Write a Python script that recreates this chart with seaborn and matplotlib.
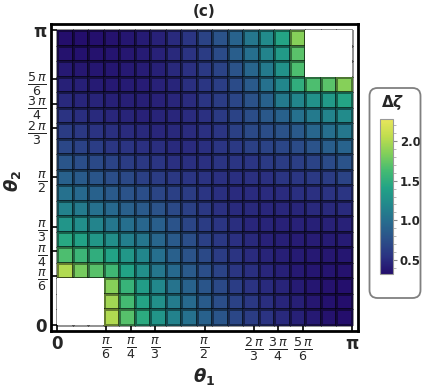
import numpy as np
import matplotlib
matplotlib.use("Agg")
import matplotlib.pyplot as plt
import seaborn as sns
from matplotlib.colors import LinearSegmentedColormap, ListedColormap
from matplotlib.patches import FancyBboxPatch
from matplotlib.transforms import IdentityTransform
from matplotlib.ticker import MultipleLocator

nan = np.nan

# delta zeta on a 19x19 mesh, rows from theta2 = pi (top) down to 0, columns theta1 = 0 .. pi
dzeta = [
    [0.33, 0.33, 0.34, 0.36, 0.38, 0.41, 0.45, 0.50, 0.57, 0.67, 0.79, 0.92, 1.07, 1.22, 1.42, 1.85, nan, nan, nan],
    [0.36, 0.35, 0.36, 0.37, 0.39, 0.41, 0.45, 0.49, 0.55, 0.62, 0.73, 0.87, 1.01, 1.17, 1.34, 1.70, nan, nan, nan],
    [0.40, 0.39, 0.38, 0.38, 0.40, 0.42, 0.44, 0.49, 0.54, 0.60, 0.67, 0.79, 0.94, 1.09, 1.27, 1.65, nan, nan, nan],
    [0.44, 0.43, 0.41, 0.40, 0.41, 0.42, 0.45, 0.47, 0.53, 0.58, 0.64, 0.73, 0.84, 1.02, 1.18, 1.50, 1.65, 1.70, 1.85],
    [0.49, 0.47, 0.46, 0.44, 0.43, 0.43, 0.45, 0.48, 0.51, 0.57, 0.62, 0.69, 0.78, 0.90, 1.09, 1.18, 1.27, 1.34, 1.42],
    [0.55, 0.52, 0.50, 0.48, 0.46, 0.45, 0.46, 0.48, 0.51, 0.54, 0.61, 0.67, 0.74, 0.83, 0.90, 1.02, 1.09, 1.17, 1.22],
    [0.62, 0.59, 0.55, 0.53, 0.51, 0.49, 0.48, 0.49, 0.51, 0.54, 0.57, 0.65, 0.71, 0.74, 0.78, 0.84, 0.94, 1.01, 1.07],
    [0.70, 0.66, 0.63, 0.58, 0.56, 0.54, 0.52, 0.50, 0.51, 0.53, 0.57, 0.60, 0.65, 0.67, 0.69, 0.73, 0.79, 0.87, 0.92],
    [0.80, 0.75, 0.71, 0.67, 0.62, 0.59, 0.57, 0.54, 0.53, 0.54, 0.56, 0.57, 0.57, 0.61, 0.62, 0.64, 0.67, 0.73, 0.79],
    [0.90, 0.85, 0.80, 0.75, 0.71, 0.65, 0.62, 0.59, 0.57, 0.55, 0.54, 0.53, 0.54, 0.54, 0.57, 0.58, 0.60, 0.62, 0.67],
    [1.02, 0.96, 0.90, 0.84, 0.79, 0.75, 0.68, 0.65, 0.62, 0.57, 0.53, 0.51, 0.51, 0.51, 0.51, 0.53, 0.54, 0.55, 0.57],
    [1.15, 1.10, 1.02, 0.96, 0.89, 0.84, 0.79, 0.71, 0.65, 0.59, 0.54, 0.50, 0.49, 0.48, 0.48, 0.47, 0.49, 0.49, 0.50],
    [1.30, 1.24, 1.17, 1.07, 1.01, 0.94, 0.88, 0.79, 0.68, 0.62, 0.57, 0.52, 0.48, 0.46, 0.45, 0.45, 0.44, 0.45, 0.45],
    [1.45, 1.40, 1.32, 1.25, 1.13, 1.06, 0.94, 0.84, 0.75, 0.65, 0.59, 0.54, 0.49, 0.45, 0.43, 0.42, 0.42, 0.41, 0.41],
    [1.65, 1.57, 1.50, 1.41, 1.32, 1.18, 1.01, 0.89, 0.79, 0.71, 0.62, 0.56, 0.51, 0.46, 0.43, 0.41, 0.40, 0.39, 0.38],
    [2.00, 1.80, 1.69, 1.60, 1.41, 1.25, 1.07, 0.96, 0.84, 0.75, 0.67, 0.58, 0.53, 0.48, 0.44, 0.40, 0.38, 0.37, 0.36],
    [nan, nan, nan, 1.85, 1.55, 1.36, 1.20, 1.04, 0.91, 0.80, 0.71, 0.63, 0.55, 0.50, 0.46, 0.41, 0.38, 0.36, 0.34],
    [nan, nan, nan, 1.95, 1.62, 1.42, 1.26, 1.11, 0.97, 0.85, 0.75, 0.66, 0.59, 0.52, 0.47, 0.43, 0.39, 0.35, 0.33],
    [nan, nan, nan, 2.00, 1.68, 1.47, 1.30, 1.15, 1.02, 0.90, 0.80, 0.70, 0.62, 0.55, 0.49, 0.44, 0.40, 0.36, 0.33],
]

# tick positions in units of pi
tick_vals = [0, 1/6, 1/4, 1/3, 1/2, 2/3, 3/4, 5/6, 1]
tick_labels = ["0", r"$\frac{\pi}{6}$", r"$\frac{\pi}{4}$", r"$\frac{\pi}{3}$", r"$\frac{\pi}{2}$",
               r"$\frac{2\,\pi}{3}$", r"$\frac{3\,\pi}{4}$", r"$\frac{5\,\pi}{6}$", "π"]
cbar_ticks = [0.5, 1.0, 1.5, 2.0]
z_min, z_max = 0.33, 2.27

colors = ["#240e6c", "#2b3282", "#2b5089", "#276b8e", "#22878c", "#22a386",
          "#44bb72", "#82cf5a", "#c0dd4e", "#e8e65c"]
cmap = LinearSegmentedColormap.from_list("dz", colors)

sns.set_style("white")

fig = plt.figure(figsize=(4.22, 3.90), dpi=100)
ax = fig.add_axes([51/422, 59/390, 307/422, 307/390])

data = np.array(dzeta)
n = data.shape[0]
sns.heatmap(data, cmap=cmap, vmin=z_min, vmax=z_max, cbar=False,
            linewidths=0.8, linecolor=(0, 0, 0, 0.42),
            xticklabels=False, yticklabels=False, ax=ax)
mesh = ax.collections[0]

# blank out the undefined regions (no mesh lines inside the holes)
holes = np.where(np.isnan(data), 1.0, np.nan)
sns.heatmap(holes, cmap=ListedColormap(["white"]), cbar=False, linewidths=0,
            xticklabels=False, yticklabels=False, ax=ax)

ax.set_xlim(-0.4, n + 0.4)
ax.set_ylim(n + 0.4, -0.4)
ax.set_xticks([v * n for v in tick_vals])
ax.set_xticklabels(tick_labels)
ax.set_yticks([(1 - v) * n for v in tick_vals])
ax.set_yticklabels(tick_labels)
ax.tick_params(direction="in", length=4, width=1.2, color="black",
               bottom=True, left=True, top=False, right=False, pad=3)
for lab in ax.get_xticklabels() + ax.get_yticklabels():
    if lab.get_text() in ("0", "π"):
        lab.set_fontsize(12)
        lab.set_fontweight("bold")
    else:
        lab.set_fontsize(13)
for s in ax.spines.values():
    s.set_visible(True)
    s.set_linewidth(2)
    s.set_color("black")

ax.set_title("(c)", fontsize=11, fontweight="bold", pad=6)
ax.set_xlabel(r"$\boldsymbol{\theta}_\mathbf{1}$", fontsize=13)
ax.set_ylabel(r"$\boldsymbol{\theta}_\mathbf{2}$", fontsize=13)
ax.xaxis.set_label_coords(0.5, -0.115)
ax.yaxis.set_label_coords(-0.09, 0.49)

# colorbar legend
cax = fig.add_axes([380/422, 116/390, 13/422, 155/390])
cb = fig.colorbar(mesh, cax=cax, ticks=cbar_ticks)
cb.ax.yaxis.set_minor_locator(MultipleLocator(0.1))
cb.outline.set_edgecolor("#999999")
cb.outline.set_linewidth(0.8)
cb.ax.tick_params(which="major", length=3, width=0.8, color="#888888", labelsize=8.5, pad=2)
cb.ax.tick_params(which="minor", length=2, width=0.6, color="#aaaaaa")
cb.ax.set_yticklabels(["0.5", "1.0", "1.5", "2.0"], fontweight="bold")

fig.text(393/422, 1 - 103/390, r"$\mathbf{\Delta}\boldsymbol{\zeta}$", ha="center", va="center", fontsize=11)

box = FancyBboxPatch((369.5, 92), 51, 210, boxstyle="round,pad=0,rounding_size=8",
                     transform=IdentityTransform(), fill=False, edgecolor="#808080", linewidth=1.3)
fig.add_artist(box)

fig.savefig("out.png", dpi=100)
